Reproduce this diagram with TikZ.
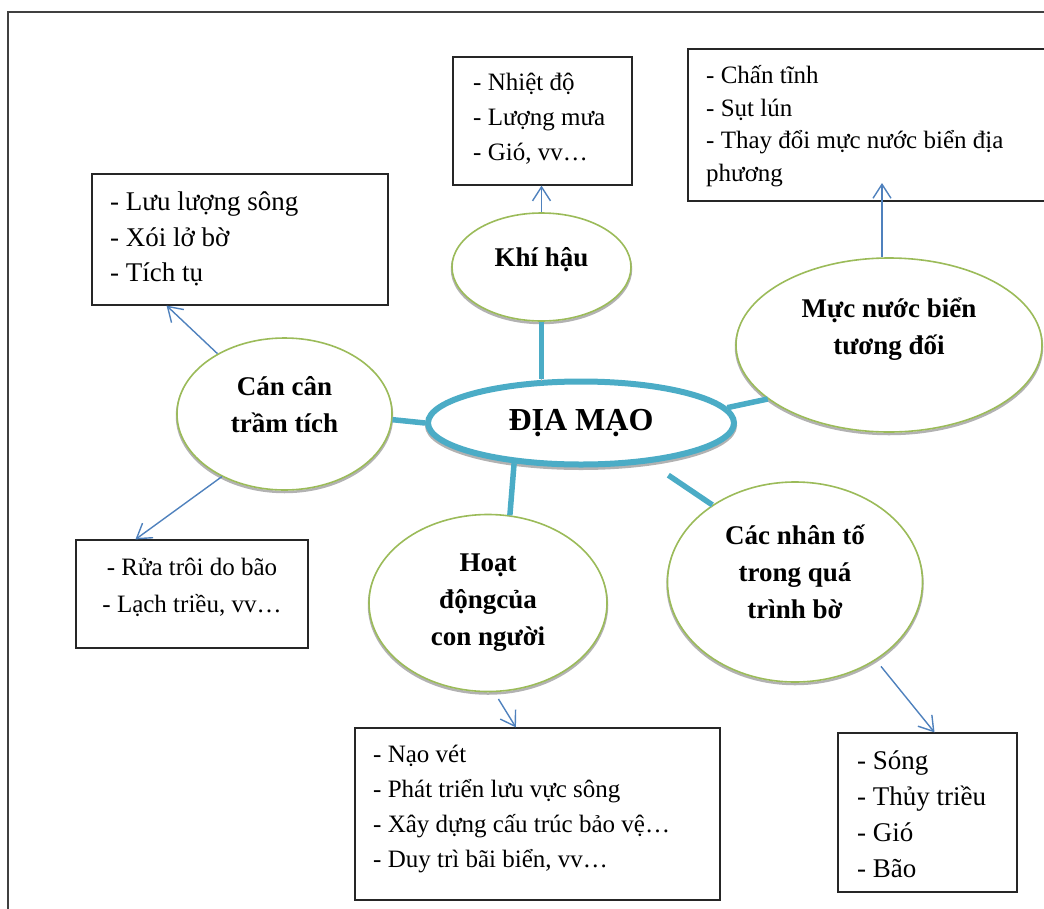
\documentclass[tikz,border=0pt]{standalone}
\usepackage{fontspec}
\setmainfont{Liberation Serif}
\usetikzlibrary{arrows.meta,shapes.geometric}

\definecolor{stemteal}{RGB}{75,172,198}
\definecolor{bubblegreen}{RGB}{155,187,89}
\definecolor{arrowblue}{RGB}{79,129,189}

\tikzset{
  bubble/.style={ellipse, draw=bubblegreen, line width=1.6pt, fill=white, align=center, inner sep=0pt,
    font=\bfseries\fontsize{27}{37}\selectfont,
    preaction={draw=gray!60, line width=2.5pt, transform canvas={yshift=-2pt}}},
  stem/.style={draw=stemteal, line width=5.5pt,
    preaction={draw=gray!60, transform canvas={yshift=-2pt}}},
  pointer/.style={draw=arrowblue, line width=1.4pt, -{Straight Barb[length=14pt,width=18pt]}},
  listbox/.style={draw=black!85, line width=1.2pt, inner sep=0pt},
  listtext/.style={inner sep=0pt, align=left, anchor=north west,
    font=\fontsize{25}{35}\selectfont, execute at begin node={\rule{0pt}{24pt}}},
}

\begin{document}
\begin{tikzpicture}[x=1pt,y=-1pt]
\useasboundingbox (0,0) rectangle (1044,908);
% outer frame
\draw[black!75, line width=1.6pt] (8,12) rectangle (1070,940);

% centre
\node[ellipse, draw=stemteal, line width=6pt, fill=white, minimum width=306pt, minimum height=83pt,
  font=\bfseries\fontsize{32}{38}\selectfont,
  preaction={draw=gray!60, transform canvas={yshift=-2.5pt}}] (diaMao) at (581,423) {ĐỊA MẠO};

% factors
\node[bubble, minimum width=179pt, minimum height=108pt, text depth=21pt] (khiHau) at (541.5,267) {Khí hậu};
\node[bubble, minimum width=306pt, minimum height=174pt, text depth=38pt] (mucNuoc) at (889,345) {Mực nước biển\\tương đối};
\node[bubble, minimum width=215pt, minimum height=152pt, text depth=20pt] (canCan) at (284.5,414) {Cán cân\\trầm tích};
\node[bubble, minimum width=238pt, minimum height=177pt] (hoatDong) at (488,603) {Hoạt\\độngcủa\\con người};
\node[bubble, minimum width=255pt, minimum height=200pt, text depth=20pt] (nhanTo) at (795,582) {Các nhân tố\\trong quá\\trình bờ};

% lists
\node[listbox, minimum width=179pt, minimum height=128pt] (boxKhi) at (542.5,121) {};
\node[listtext] (txtKhi) at (473,73) {- Nhiệt độ\\- Lượng mưa\\- Gió, vv…};
\node[listbox, minimum width=358pt, minimum height=152pt] (boxChan) at (867,125) {};
\node[listtext, font=\fontsize{25}{32.5}\selectfont] (txtChan) at (706,65.5) {- Chấn tĩnh\\- Sụt lún\\- Thay đổi mực nước biển địa\\phương};
\node[listbox, minimum width=296pt, minimum height=131pt] (boxLuu) at (240,239.5) {};
\node[listtext, font=\fontsize{27}{35.5}\selectfont] (txtLuu) at (110,192) {- Lưu lượng sông\\- Xói lở bờ\\- Tích tụ};
\node[listbox, minimum width=232pt, minimum height=108pt] (boxRua) at (192,594) {};
\node[listtext, align=center, anchor=north, font=\fontsize{25}{37}\selectfont] (txtRua) at (192,558) {- Rửa trôi do bão\\- Lạch triều, vv…};
\node[listbox, minimum width=365pt, minimum height=172pt] (boxNao) at (537.5,814) {};
\node[listtext] (txtNao) at (373,745) {- Nạo vét\\- Phát triển lưu vực sông\\- Xây dựng cấu trúc bảo vệ…\\- Duy trì bãi biển, vv…};
\node[listbox, minimum width=179pt, minimum height=159pt] (boxSong) at (927.5,812.5) {};
\node[listtext, font=\fontsize{27}{35.7}\selectfont] (txtSong) at (857,751) {- Sóng\\- Thủy triều\\- Gió\\- Bão};

% stems to the centre
\draw[stem] (khiHau.south) -- (khiHau.south |- diaMao.north);
\draw[stem] (canCan.-3) -- (diaMao.west);
\draw[stem] (mucNuoc.204) -- (diaMao.6);
\draw[stem] (hoatDong.76) -- (diaMao.211);
\draw[stem, shorten >=22pt] (nhanTo.137) -- (diaMao.-30);

% arrows to the lists
\coordinate (chanTip) at (882,183);
\draw[pointer] (khiHau.north) -- (khiHau.north |- boxKhi.south);
\draw[pointer] (mucNuoc.north -| chanTip) -- (chanTip);
\draw[pointer] (canCan.138) -- (boxLuu.222);
\draw[pointer] (canCan.225) -- (boxRua.136);
\draw[pointer, shorten <=8pt] (hoatDong.-86) -- (boxNao.104.5);
\draw[pointer, shorten <=8pt] (nhanTo.-44) -- (boxSong.85);
\end{tikzpicture}
\end{document}
